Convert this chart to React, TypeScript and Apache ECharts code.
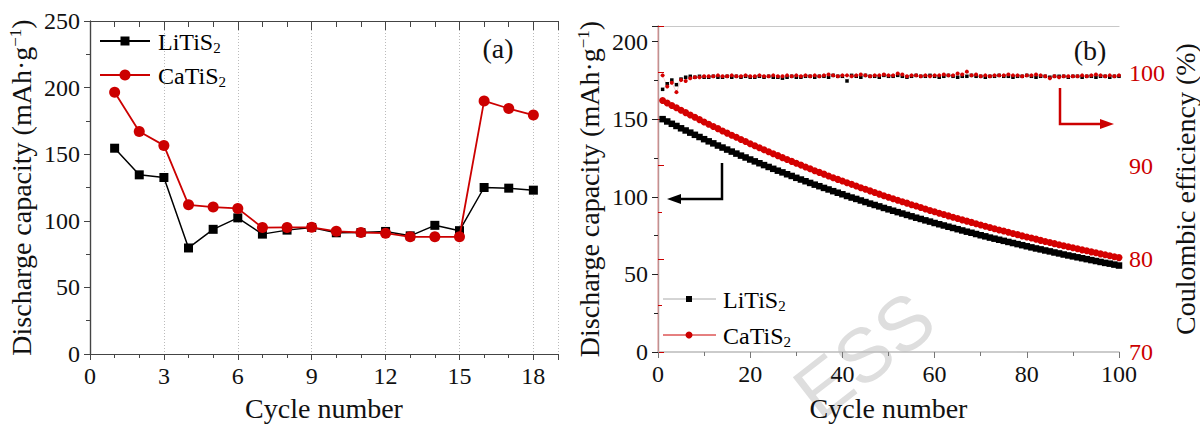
import React, { useEffect, useRef } from "react";
import * as echarts from "echarts";

const FONT = '"Liberation Serif", "Times New Roman", serif';
const RED = "#cc0000";

// Panel (a): rate test
const cyclesA = [1, 2, 3, 4, 5, 6, 7, 8, 9, 10, 11, 12, 13, 14, 15, 16, 17, 18];
const liA = [154.5, 134.5, 132.5, 79.6, 93.6, 102.2, 90.0, 93.0, 95.0, 91.0, 91.2, 92.0, 88.7, 96.6, 92.6, 125.0, 124.5, 123.0];
const caA = [196.5, 167.0, 156.6, 112.0, 110.3, 109.3, 94.9, 95.0, 95.1, 92.1, 91.2, 90.7, 88.0, 88.0, 88.0, 190.0, 184.3, 179.4];

// Panel (b): cycling, discharge capacity
const liB = [
  150.0, 148.5, 147.0, 145.6, 144.1, 142.7, 141.3, 139.9, 138.5, 137.1,
  135.7, 134.4, 133.0, 131.7, 130.4, 129.1, 127.8, 126.5, 125.3, 124.0,
  122.8, 121.6, 120.4, 119.2, 118.0, 116.8, 115.7, 114.5, 113.4, 112.2,
  111.1, 110.0, 108.9, 107.8, 106.8, 105.7, 104.7, 103.6, 102.6, 101.6,
  100.5, 99.5, 98.6, 97.6, 96.6, 95.6, 94.7, 93.8, 92.8, 91.9,
  91.0, 90.1, 89.2, 88.3, 87.4, 86.5, 85.7, 84.8, 84.0, 83.1,
  82.3, 81.5, 80.7, 79.9, 79.1, 78.3, 77.5, 76.8, 76.0, 75.2,
  74.5, 73.7, 73.0, 72.3, 71.6, 70.9, 70.2, 69.5, 68.8, 68.1,
  67.4, 66.7, 66.1, 65.4, 64.8, 64.1, 63.5, 62.8, 62.2, 61.6,
  61.0, 60.4, 59.8, 59.2, 58.6, 58.0, 57.4, 56.9, 56.3, 55.7,
];
const caB = [
  162.0, 160.4, 158.8, 157.3, 155.7, 154.2, 152.7, 151.2, 149.7, 148.2,
  146.7, 145.3, 143.9, 142.4, 141.0, 139.6, 138.3, 136.9, 135.6, 134.2,
  132.9, 131.6, 130.3, 129.0, 127.7, 126.5, 125.2, 124.0, 122.8, 121.6,
  120.4, 119.2, 118.0, 116.8, 115.7, 114.6, 113.4, 112.3, 111.2, 110.1,
  109.0, 108.0, 106.9, 105.8, 104.8, 103.8, 102.7, 101.7, 100.7, 99.7,
  98.7, 97.8, 96.8, 95.9, 94.9, 94.0, 93.1, 92.1, 91.2, 90.3,
  89.4, 88.6, 87.7, 86.8, 86.0, 85.1, 84.3, 83.5, 82.6, 81.8,
  81.0, 80.2, 79.4, 78.6, 77.9, 77.1, 76.3, 75.6, 74.8, 74.1,
  73.4, 72.7, 71.9, 71.2, 70.5, 69.8, 69.1, 68.5, 67.8, 67.1,
  66.5, 65.8, 65.2, 64.5, 63.9, 63.2, 62.6, 62.0, 61.4, 60.8,
];
// Panel (b): coulombic efficiency (%)
const liCE = [
  98.2, 98.8, 99.2, 98.7, 99.3, 99.5, 99.6, 99.5, 99.6, 99.5,
  99.5, 99.6, 99.5, 99.5, 99.6, 99.5, 99.6, 99.5, 99.6, 99.5,
  99.5, 99.6, 99.5, 99.6, 99.5, 99.5, 99.4, 99.5, 99.6, 99.5,
  99.5, 99.6, 99.6, 99.5, 99.6, 99.6, 99.5, 99.7, 99.6, 99.6,
  99.1, 99.7, 99.6, 99.5, 99.7, 99.6, 99.6, 99.5, 99.7, 99.6,
  99.6, 99.7, 99.6, 99.5, 99.6, 99.7, 99.6, 99.6, 99.7, 99.6,
  99.5, 99.6, 99.7, 99.6, 99.5, 99.6, 99.6, 99.7, 99.6, 99.6,
  99.5, 99.6, 99.6, 99.7, 99.6, 99.6, 99.5, 99.6, 99.6, 99.7,
  99.6, 99.5, 99.6, 99.6, 99.5, 99.6, 99.6, 99.6, 99.5, 99.6,
  99.6, 99.5, 99.6, 99.6, 99.5, 99.6, 99.6, 99.5, 99.6, 99.6,
];
const caCE = [
  99.7, 98.5, 98.9, 97.9, 99.2, 99.1, 99.4, 99.5, 99.5, 99.6,
  99.6, 99.6, 99.7, 99.6, 99.6, 99.7, 99.6, 99.6, 99.7, 99.6,
  99.6, 99.7, 99.6, 99.6, 99.7, 99.6, 99.6, 99.7, 99.6, 99.7,
  99.6, 99.7, 99.6, 99.7, 99.6, 99.7, 99.8, 99.7, 99.6, 99.7,
  99.7, 99.6, 99.7, 99.8, 99.7, 99.6, 99.7, 99.7, 99.8, 99.7,
  99.7, 99.9, 99.8, 99.6, 99.7, 99.7, 99.6, 99.7, 99.6, 99.7,
  99.7, 99.8, 99.7, 99.7, 99.9, 99.8, 100.1, 99.7, 99.8, 99.6,
  99.7, 99.6, 99.7, 99.7, 99.7, 99.8, 99.7, 99.7, 99.6, 99.7,
  99.7, 99.8, 99.7, 99.6, 99.4, 99.6, 99.5, 99.6, 99.6, 99.6,
  99.6, 99.7, 99.6, 99.7, 99.8, 99.7, 99.6, 99.7, 99.6, 99.7,
];

const legendRich = {
  m: { fontSize: 24, fontFamily: FONT, color: "#111" },
  s: { fontSize: 15, fontFamily: FONT, color: "#111", verticalAlign: "bottom", padding: [12, 0, 0, 0] },
};
const nameRich = {
  sup: { fontSize: 17, fontFamily: FONT, color: "#111", verticalAlign: "top", padding: [0, 0, 10, 0] },
};

export default function App() {
  const ref = useRef<HTMLDivElement>(null);
  useEffect(() => {
    document.body.style.margin = "0";
    if (!ref.current) return;
    const chart = echarts.init(ref.current, undefined, { renderer: "svg" });
    const cyclesB = liB.map((_, i) => i + 1);
    const labelStyle = { fontFamily: FONT, fontSize: 24, color: "#111" };
    const nameStyle = { fontFamily: FONT, fontSize: 28, color: "#111", rich: nameRich };
    const darkLine = { lineStyle: { color: "#444", width: 1.2 } };
    const option: any = {
      animation: false,
      backgroundColor: "#fff",
      grid: [
        { left: 90, top: 21, width: 468, height: 339 },
        { left: 658, top: 26, width: 463, height: 332 },
      ],
      xAxis: [
        {
          gridIndex: 0, type: "value", min: 0, max: 19, interval: 3,
          axisLine: darkLine, axisTick: { show: true, inside: false, length: 6, lineStyle: { color: "#444" } },
          minorTick: { show: true, splitNumber: 3, length: 4, lineStyle: { color: "#444" } },
          axisLabel: { ...labelStyle, margin: 10, showMaxLabel: false },
          splitLine: { show: true, lineStyle: { color: "#bbb", type: [1, 2], width: 1 } },
          name: "Cycle number", nameLocation: "middle", nameGap: 40, nameTextStyle: nameStyle,
        },
        {
          gridIndex: 0, type: "value", min: 0, max: 19, interval: 3, position: "top",
          axisLine: { show: true, onZero: false, lineStyle: { color: "#444", width: 1.2 } },
          axisTick: { show: true, inside: true, length: 9, lineStyle: { color: "#444" } },
          minorTick: { show: true, splitNumber: 3, length: 6, lineStyle: { color: "#444" } },
          axisLabel: { show: false }, splitLine: { show: false },
        },
        {
          gridIndex: 1, type: "value", min: 0, max: 100, interval: 20,
          axisLine: { lineStyle: { color: "#bbb", width: 1.5 } },
          axisTick: { show: true, length: 6, lineStyle: { color: "#777" } },
          minorTick: { show: true, splitNumber: 2, length: 4, lineStyle: { color: "#777" } },
          axisLabel: { ...labelStyle, margin: 10 },
          splitLine: { show: false },
          name: "Cycle number", nameLocation: "middle", nameGap: 42, nameTextStyle: nameStyle,
        },
        {
          gridIndex: 1, type: "value", min: 0, max: 100, position: "top",
          axisLine: { show: true, onZero: false, lineStyle: { color: "#c8c8c8", width: 1.2 } },
          axisTick: { show: false }, axisLabel: { show: false }, splitLine: { show: false },
        },
      ],
      yAxis: [
        {
          gridIndex: 0, type: "value", min: 0, max: 250, interval: 50,
          axisLine: { show: true, lineStyle: { color: "#444", width: 1.2 } },
          axisTick: { show: true, length: 6, lineStyle: { color: "#444" } },
          minorTick: { show: true, splitNumber: 2, length: 4, lineStyle: { color: "#444" } },
          axisLabel: { ...labelStyle, margin: 10 },
          splitLine: { show: false },
          name: "Discharge capacity (mAh·g{sup|−1})", nameLocation: "middle", nameGap: 55, nameRotate: 90,
          nameTextStyle: nameStyle,
        },
        {
          gridIndex: 0, type: "value", min: 0, max: 250, position: "right",
          axisLine: { show: true, lineStyle: { color: "#444", width: 1.2 } },
          axisTick: { show: false }, axisLabel: { show: false }, splitLine: { show: false },
        },
        {
          gridIndex: 1, type: "value", min: 0, max: 210, interval: 50,
          axisLine: { show: true, lineStyle: { color: "#222", width: 1.2 } },
          axisTick: { show: true, length: 6, lineStyle: { color: "#222" } },
          minorTick: { show: true, splitNumber: 2, length: 4, lineStyle: { color: "#222" } },
          axisLabel: { ...labelStyle, margin: 10, showMaxLabel: false },
          splitLine: { show: false },
          name: "Discharge capacity (mAh·g{sup|−1})", nameLocation: "middle", nameGap: 55, nameRotate: 90,
          nameTextStyle: nameStyle,
        },
        {
          gridIndex: 1, type: "value", min: 70, max: 105, interval: 10, position: "right",
          axisLine: { show: true, lineStyle: { color: "#f3b9b9", width: 1.5 } },
          axisTick: { show: true, length: 6, lineStyle: { color: RED } },
          minorTick: { show: true, splitNumber: 2, length: 4, lineStyle: { color: RED } },
          axisLabel: { ...labelStyle, color: RED, margin: 10, showMaxLabel: false },
          splitLine: { show: false },
          name: "Coulombic efficiency (%)", nameLocation: "middle", nameGap: 52, nameRotate: 90,
          nameTextStyle: { fontFamily: FONT, fontSize: 28, color: "#111" },
        },
      ],
      series: [
        {
          name: "LiTiS2 (a)", type: "line", xAxisIndex: 0, yAxisIndex: 0,
          data: cyclesA.map((c, i) => [c, liA[i]]),
          symbol: "rect", symbolSize: 9, itemStyle: { color: "#000" },
          lineStyle: { color: "#000", width: 1.5 }, z: 3,
        },
        {
          name: "CaTiS2 (a)", type: "line", xAxisIndex: 0, yAxisIndex: 0,
          data: cyclesA.map((c, i) => [c, caA[i]]),
          symbol: "circle", symbolSize: 11, itemStyle: { color: RED },
          lineStyle: { color: RED, width: 1.8 }, z: 4,
        },
        {
          name: "LiTiS2 CE", type: "line", xAxisIndex: 2, yAxisIndex: 3,
          data: cyclesB.map((c, i) => [c, liCE[i]]),
          symbol: "rect", symbolSize: 3.5, itemStyle: { color: "#000" },
          lineStyle: { color: "#888", width: 0.6, type: "dotted" },
        },
        {
          name: "CaTiS2 CE", type: "line", xAxisIndex: 2, yAxisIndex: 3,
          data: cyclesB.map((c, i) => [c, caCE[i]]),
          symbol: "circle", symbolSize: 4, itemStyle: { color: "#d40000" },
          lineStyle: { color: "#e06060", width: 0.6, type: "dotted" },
        },
        {
          name: "LiTiS2 (b)", type: "line", xAxisIndex: 2, yAxisIndex: 2,
          data: cyclesB.map((c, i) => [c, liB[i]]),
          symbol: "rect", symbolSize: 6.5, itemStyle: { color: "#000" },
          lineStyle: { color: "#000", width: 3 },
        },
        {
          name: "CaTiS2 (b)", type: "line", xAxisIndex: 2, yAxisIndex: 2,
          data: cyclesB.map((c, i) => [c, caB[i]]),
          symbol: "circle", symbolSize: 7, itemStyle: { color: "#d40000" },
          lineStyle: { color: "#d40000", width: 3 },
        },
      ],
      graphic: [
        // watermark
        {
          type: "text", x: 924, y: 308, rotation: 0.66, z: -10, silent: true,
          style: { text: "ESS", fontSize: 76, fontFamily: "Liberation Sans, Arial, sans-serif", fill: "#dedede", align: "right", verticalAlign: "middle" },
        },
        // legend (a)
        { type: "line", shape: { x1: 100, y1: 41, x2: 150, y2: 41 }, style: { stroke: "#000", lineWidth: 2 } },
        { type: "rect", shape: { x: 120.5, y: 36.5, width: 9, height: 9 }, style: { fill: "#000" } },
        { type: "text", x: 158, y: 42, style: { text: "{m|LiTiS}{s|2}", rich: legendRich, verticalAlign: "middle" } },
        { type: "line", shape: { x1: 100, y1: 75, x2: 150, y2: 75 }, style: { stroke: RED, lineWidth: 2 } },
        { type: "circle", shape: { cx: 125, cy: 75, r: 5.5 }, style: { fill: RED } },
        { type: "text", x: 158, y: 76, style: { text: "{m|CaTiS}{s|2}", rich: legendRich, verticalAlign: "middle" } },
        { type: "text", x: 498, y: 48, style: { text: "(a)", fontSize: 28, fontFamily: FONT, fill: "#111", align: "center", verticalAlign: "middle" } },
        // legend (b)
        { type: "line", shape: { x1: 663, y1: 299, x2: 716, y2: 299 }, style: { stroke: "#aaa", lineWidth: 1 } },
        { type: "rect", shape: { x: 686, y: 296, width: 6, height: 6 }, style: { fill: "#000" } },
        { type: "text", x: 723, y: 300, style: { text: "{m|LiTiS}{s|2}", rich: legendRich, verticalAlign: "middle" } },
        { type: "line", shape: { x1: 663, y1: 335, x2: 716, y2: 335 }, style: { stroke: RED, lineWidth: 1 } },
        { type: "circle", shape: { cx: 689, cy: 335, r: 3.5 }, style: { fill: RED } },
        { type: "text", x: 723, y: 336, style: { text: "{m|CaTiS}{s|2}", rich: legendRich, verticalAlign: "middle" } },
        { type: "text", x: 1090, y: 50, style: { text: "(b)", fontSize: 28, fontFamily: FONT, fill: "#111", align: "center", verticalAlign: "middle" } },
        // arrows
        { type: "polyline", shape: { points: [[722, 163], [722, 199], [678, 199]] }, style: { stroke: "#000", lineWidth: 2.5, fill: null } },
        { type: "polygon", shape: { points: [[667, 199], [681, 194], [681, 204]] }, style: { fill: "#000" } },
        { type: "polyline", shape: { points: [[1060, 88], [1060, 124], [1103, 124]] }, style: { stroke: RED, lineWidth: 2.5, fill: null } },
        { type: "polygon", shape: { points: [[1114, 124], [1100, 119], [1100, 129]] }, style: { fill: RED } },
      ],
    };
    chart.setOption(option);
    return () => chart.dispose();
  }, []);
  return <div ref={ref} style={{ width: 1200, height: 427 }} />;
}
